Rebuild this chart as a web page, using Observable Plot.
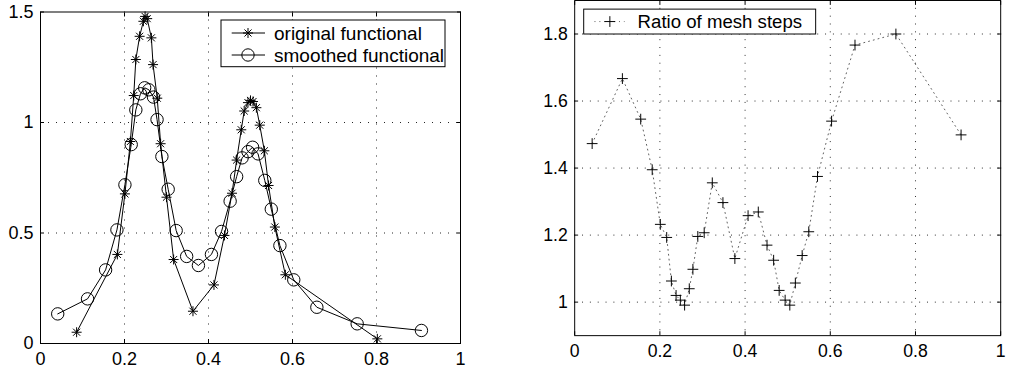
<!DOCTYPE html>
<html>
<head>
<meta charset="utf-8">
<script src="https://cdn.jsdelivr.net/npm/d3@7"></script>
<script src="https://cdn.jsdelivr.net/npm/@observablehq/plot@0.6"></script>
<style>
  html, body { margin: 0; padding: 0; background: #fff; overflow: hidden; }
  #wrap { position: relative; width: 1010px; height: 374px; overflow: hidden; }
  #left, #right { position: absolute; top: 0; }
  #left { left: 0; }
  #right { left: 520px; }
  svg text { font-family: "Liberation Sans", Arial, Helvetica, sans-serif; }
</style>
</head>
<body>
<div id="wrap"><div id="left"></div><div id="right"></div></div>
<script>
// ---- data ----
const smoothX = [0.041, 0.112, 0.155, 0.182, 0.201, 0.216, 0.227, 0.238, 0.248, 0.258, 0.269, 0.2775, 0.289, 0.304, 0.323, 0.348, 0.376, 0.407, 0.431, 0.4515, 0.467, 0.480, 0.494, 0.505, 0.518, 0.534, 0.5495, 0.570, 0.603, 0.658, 0.754, 0.907];
const smoothY = [0.134, 0.202, 0.333, 0.514, 0.718, 0.9, 1.057, 1.13, 1.157, 1.148, 1.115, 1.013, 0.846, 0.698, 0.511, 0.394, 0.353, 0.403, 0.507, 0.644, 0.755, 0.84, 0.868, 0.888, 0.858, 0.738, 0.608, 0.443, 0.288, 0.164, 0.089, 0.059];
const ratioY = [1.473, 1.667, 1.546, 1.395, 1.232, 1.193, 1.063, 1.020, 1.006, 0.991, 1.040, 1.098, 1.196, 1.207, 1.356, 1.297, 1.130, 1.258, 1.269, 1.170, 1.125, 1.035, 1.006, 0.991, 1.057, 1.139, 1.210, 1.375, 1.540, 1.767, 1.800, 1.499];
const origX = [0.086, 0.183, 0.201, 0.214, 0.222, 0.227, 0.236, 0.245, 0.249, 0.254, 0.264, 0.268, 0.278, 0.286, 0.300, 0.317, 0.363, 0.413, 0.438, 0.456, 0.467, 0.478, 0.485, 0.494, 0.500, 0.506, 0.514, 0.522, 0.533, 0.543, 0.558, 0.583, 0.802];
const origY = [0.051, 0.403, 0.677, 0.914, 1.122, 1.285, 1.39, 1.458, 1.48, 1.47, 1.383, 1.262, 1.11, 0.904, 0.662, 0.38, 0.146, 0.265, 0.489, 0.68, 0.83, 0.967, 1.052, 1.09, 1.10, 1.095, 1.067, 0.988, 0.872, 0.715, 0.527, 0.311, 0.021];

const xTicks = [0, 0.2, 0.4, 0.6, 0.8, 1];
const leftYTicks = [0, 0.5, 1, 1.5];
const rightYTicks = [1, 1.2, 1.4, 1.6, 1.8];
const leftLegend = ["original functional", "smoothed functional"];
const rightLegend = ["Ratio of mesh steps"];

// ---- helpers ----
const orig = origX.map((x, i) => ({x, y: origY[i]}));
const smooth = smoothX.map((x, i) => ({x, y: smoothY[i]}));
const ratio = smoothX.map((x, i) => ({x, y: ratioY[i]}));

const starSymbol = {draw(ctx, size) {
  const r = Math.sqrt(size / Math.PI), d = r * Math.SQRT1_2;
  ctx.moveTo(-r, 0); ctx.lineTo(r, 0);
  ctx.moveTo(0, -r); ctx.lineTo(0, r);
  ctx.moveTo(-d, -d); ctx.lineTo(d, d);
  ctx.moveTo(-d, d); ctx.lineTo(d, -d);
}};
const plusSymbol = {draw(ctx, size) {
  const r = Math.sqrt(size / Math.PI);
  ctx.moveTo(-r, 0); ctx.lineTo(r, 0);
  ctx.moveTo(0, -r); ctx.lineTo(0, r);
}};

const FONT = '"Liberation Sans", Arial, Helvetica, sans-serif';
const style = {fontSize: "18px", fontFamily: FONT, color: "black", background: "transparent", overflow: "visible"};
const gridStyle = {stroke: "#000", strokeOpacity: 0.85, strokeWidth: 1, strokeDasharray: "1,7"};
const fmt = d => String(d);

function axes(yTicks, xGrid, yGrid) {
  return [
    Plot.gridX(xGrid, gridStyle),
    Plot.gridY(yGrid, gridStyle),
    Plot.axisX(xTicks, {anchor: "bottom", tickSize: -4, tickPadding: 13, tickFormat: fmt, label: null}),
    Plot.axisX(xTicks, {anchor: "top", tickSize: -4, tickFormat: () => "", label: null}),
    Plot.axisY(yTicks, {anchor: "left", tickSize: -4, tickPadding: 11, tickFormat: fmt, label: null}),
    Plot.axisY(yTicks, {anchor: "right", tickSize: -4, tickFormat: () => "", label: null}),
    Plot.frame({stroke: "#000", strokeWidth: 1})
  ];
}

// ---- left panel ----
const left = Plot.plot({
  width: 520, height: 374,
  marginLeft: 40, marginRight: 60, marginTop: 11.5, marginBottom: 31,
  style,
  x: {domain: [0, 1]},
  y: {domain: [0, 1.5]},
  marks: [
    ...axes(leftYTicks, [0.2, 0.4, 0.6, 0.8], [0.5, 1]),
    Plot.line(orig, {x: "x", y: "y", stroke: "#000", strokeWidth: 1}),
    Plot.line(smooth, {x: "x", y: "y", stroke: "#000", strokeWidth: 1}),
    Plot.dot(orig, {x: "x", y: "y", symbol: starSymbol, r: 5, fill: "none", stroke: "#000", strokeWidth: 1}),
    Plot.dot(smooth, {x: "x", y: "y", symbol: "circle", r: 6.2, fill: "none", stroke: "#000", strokeWidth: 1})
  ]
});
document.getElementById("left").appendChild(left);

// ---- right panel ----
const right = Plot.plot({
  width: 500, height: 374,
  marginLeft: 55.3, marginRight: 10, marginTop: 0, marginBottom: 32,
  style,
  x: {domain: [0, 1]},
  y: {domain: [0.9, 1.9]},
  marks: [
    ...axes(rightYTicks, [0.2, 0.4, 0.6, 0.8], [1, 1.2, 1.4, 1.6, 1.8]),
    Plot.line(ratio, {x: "x", y: "y", stroke: "#333", strokeWidth: 0.8, strokeDasharray: "1,4"}),
    Plot.dot(ratio, {x: "x", y: "y", symbol: plusSymbol, r: 5.5, fill: "none", stroke: "#000", strokeWidth: 1})
  ]
});
document.getElementById("right").appendChild(right);

// ---- legends ----
function legend(svg, ox, box, rows) {
  const g = d3.select(svg).append("g").attr("transform", `translate(${-ox},0)`).attr("text-anchor", "start");
  g.append("rect").attr("x", box[0]).attr("y", box[1]).attr("width", box[2] - box[0]).attr("height", box[3] - box[1])
    .attr("fill", "#fff").attr("stroke", "#000").attr("stroke-width", 1);
  rows.forEach(r => {
    g.append("line").attr("x1", r.lx1).attr("x2", r.lx2).attr("y1", r.y).attr("y2", r.y)
      .attr("stroke", r.dash ? "#333" : "#000").attr("stroke-width", r.dash ? 0.8 : 1).attr("stroke-dasharray", r.dash || null);
    if (r.symbol === "circle") {
      g.append("circle").attr("cx", r.mx).attr("cy", r.y).attr("r", 6.2).attr("fill", "none").attr("stroke", "#000");
    } else {
      const p = d3.path();
      r.symbol.draw(p, r.size * r.size * Math.PI);
      g.append("path").attr("d", p.toString()).attr("transform", `translate(${r.mx},${r.y})`).attr("fill", "none").attr("stroke", "#000");
    }
    g.append("text").attr("x", r.tx).attr("y", r.y).attr("dy", "0.35em").attr("font-size", 19)
      .attr("text-anchor", "start").attr("font-family", FONT).attr("fill", "#000").text(r.label);
  });
}
legend(left, 0, [221, 20, 445, 66.7], [
  {y: 33, lx1: 231.7, lx2: 265, mx: 248, tx: 274, symbol: starSymbol, size: 5, label: leftLegend[0]},
  {y: 55, lx1: 231.7, lx2: 265, mx: 248, tx: 274, symbol: "circle", label: leftLegend[1]}
]);
legend(right, 520, [585, 9.3, 821.7, 34.7], [
  {y: 22, lx1: 596, lx2: 626.7, mx: 611.7, tx: 640, symbol: plusSymbol, size: 5.5, dash: "1,4", label: rightLegend[0]}
]);
</script>
</body>
</html>
